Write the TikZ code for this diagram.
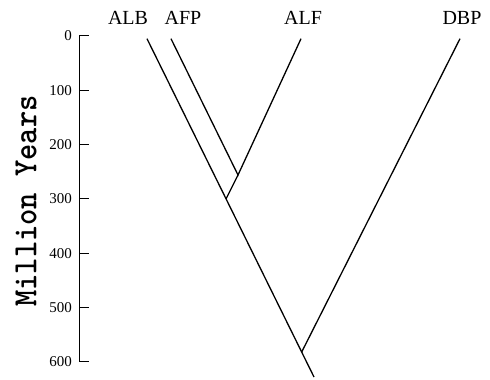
\documentclass[tikz,border=0pt]{standalone}
\usepackage{fontspec}
\setmainfont{Liberation Serif}
\usetikzlibrary{calc}

\tikzset{
  garis/.style={line width=1.3pt},
  sumbu/.style={line width=1pt, line cap=rect},
  takson/.style={anchor=base, font=\fontsize{20}{24}\selectfont},
  angka/.style={anchor=east, inner sep=0pt, font=\fontsize{15}{17}\selectfont},
}

\begin{document}
\begin{tikzpicture}[x=1pt,y=-0.543pt]
    \useasboundingbox (0,-66.3) rectangle (490,633.5);

    % Sumbu waktu
    \draw[sumbu] (79,0) coordinate (sumbuatas) -- (79,600) coordinate (sumbubawah);
    \foreach \t in {0,100,...,600}{
        \draw[sumbu] (79,\t) -- (88,\t);
        \node[angka] (angka\t) at (72,\t) {\t};
    }

    % Judul sumbu
    \node[rotate=90, xscale=0.91, font=\ttfamily\bfseries\fontsize{34}{40}\selectfont] (judul) at (26,304) {Million Years};

    % Nama takson
    \node[takson] (ALB) at (128,-20.3) {ALB};
    \node[takson] (AFP) at (183,-20.3) {AFP};
    \node[takson] (ALF) at (303,-20.3) {ALF};
    \node[takson] (DBP) at (462,-20.3) {DBP};

    % Ujung cabang dan simpul
    \coordinate (atasALB) at (147,5);
    \coordinate (atasAFP) at (171,5);
    \coordinate (atasALF) at (301,5);
    \coordinate (atasDBP) at (460,5);
    \coordinate (akar) at (314,628);
    \coordinate (simpulA) at ($(atasALB)!0.4735!(akar)$);
    \coordinate (simpulB) at (238,256);
    \coordinate (simpulD) at ($(atasALB)!0.9262!(akar)$);

    % Cabang pohon
    \draw[garis] (atasALB) -- (akar);
    \draw[garis] (atasAFP) -- (simpulB) -- (atasALF);
    \draw[garis] (simpulB) -- (simpulA);
    \draw[garis] (atasDBP) -- (simpulD);

\end{tikzpicture}
\end{document}
